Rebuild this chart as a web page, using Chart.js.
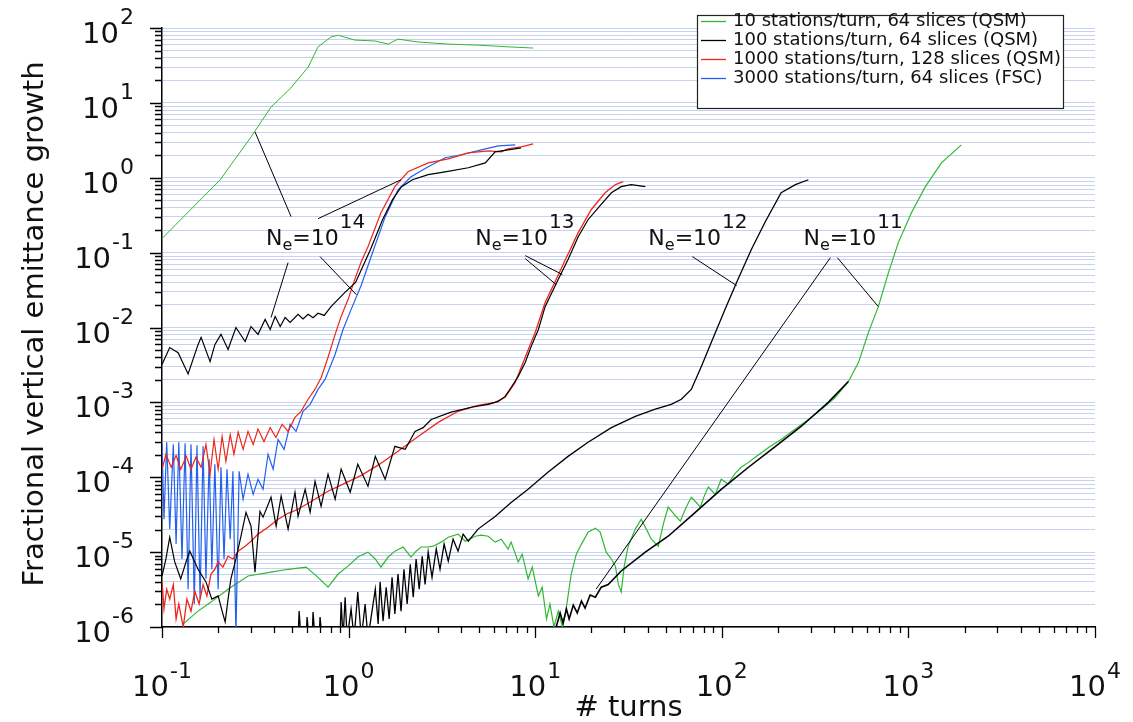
<!DOCTYPE html>
<html>
<head>
<meta charset="utf-8">
<script src="https://cdn.jsdelivr.net/npm/chart.js@4.4.1/dist/chart.umd.min.js"></script>
<style>
  html, body { margin: 0; background: #fff; }
  canvas { display: block; }
</style>
</head>
<body>
<canvas id="emittance" width="1133" height="722"></canvas>
<script>
// legend
const legendLabels = [
    '10 stations/turn, 64 slices (QSM)',
    '100 stations/turn, 64 slices (QSM)',
    '1000 stations/turn, 128 slices (QSM)',
    '3000 stations/turn, 64 slices (FSC)'
];

// axes: decades that get a "10^n" label
const xDecades = [-1, 0, 1, 2, 3, 4];
const yDecades = [-6, -5, -4, -3, -2, -1, 0, 1, 2];
const minorSteps = [1, 2, 3, 4, 5, 6, 7, 8, 9];

// Ne = 1e14, 10 stations/turn (green)
const g1X = [0.1, 0.205, 0.30, 0.384, 0.49, 0.607, 0.686, 0.805, 0.879, 1.08, 1.39, 1.63, 1.84, 2.36, 3.4, 4.95, 7.2, 9.75];
const g1Y = [0.154, 0.94, 3.5, 8.8, 15.8, 30, 56, 76, 80, 69, 67, 61, 71, 65, 61, 59, 56, 54];

// Ne = 1e11, 10 stations/turn (green)
const g2X = [0.130, 0.156, 0.183, 0.226, 0.289, 0.384, 0.474, 0.592, 0.686, 0.776,
    0.879, 0.993, 1.12, 1.27, 1.39, 1.49, 1.63, 1.77, 1.96, 2.16,
    2.30, 2.45, 2.67, 2.84, 3.13, 3.42, 3.86, 4.22, 4.77, 5.13,
    5.60, 6.10, 6.58, 7.16, 7.43, 8.11, 8.51, 9.16, 9.64, 10.4,
    10.9, 11.5, 12.0, 12.6, 13.3, 14.0, 14.5, 15.0, 15.6, 16.6,
    17.7, 19.2, 21.0, 22.3, 24.0, 25.6, 26.9, 27.9, 28.9, 30.0,
    31.5, 34.4, 37.0, 39.4, 41.9, 45.7, 48.6, 51.6, 55.6, 59.9,
    64.5, 68.6, 73.0, 76.7, 80.5, 84.7, 88.9, 92.3, 99.3, 108,
    118, 127, 139, 151, 178, 208, 248, 291, 342, 406,
    477, 540, 611, 690, 782, 883, 1038, 1233, 1503, 1923];
const g2Y = [1.1e-6, 1.63e-6, 2.15e-6, 3.2e-6, 4.8e-6, 5.4e-6, 5.9e-6, 6.3e-6, 4.6e-6, 3.4e-6,
    5.1e-6, 6.5e-6, 8.6e-6, 1.0e-5, 8.1e-6, 6.3e-6, 8.6e-6, 1.03e-5, 1.17e-5, 8.6e-6,
    1.03e-5, 1.17e-5, 1.17e-5, 1.2e-5, 1.36e-5, 1.58e-5, 1.74e-5, 1.4e-5, 1.63e-5, 1.69e-5,
    1.63e-5, 1.36e-5, 1.49e-5, 1.1e-5, 1.36e-5, 7.4e-6, 9.4e-6, 4.4e-6, 6.3e-6, 2.6e-6,
    3.4e-6, 1.28e-6, 2.03e-6, 1.0e-6, 1.63e-6, 1.0e-6, 1.49e-6, 2.6e-6, 5.1e-6, 9.4e-6,
    1.28e-5, 1.85e-5, 2.09e-5, 1.85e-5, 1.0e-5, 8.1e-6, 6.5e-6, 3.7e-6, 2.93e-6, 6.5e-6,
    1.2e-5, 2.03e-5, 2.75e-5, 2.03e-5, 1.49e-5, 1.2e-5, 2.36e-5, 4.0e-5, 3.2e-5, 2.59e-5,
    4.0e-5, 5.4e-5, 4.6e-5, 4.0e-5, 5.6e-5, 7.4e-5, 6.5e-5, 5.9e-5, 9.4e-5, 8.1e-5,
    1.13e-4, 1.36e-4, 1.58e-4, 1.85e-4, 2.5e-4, 3.2e-4, 4.4e-4, 5.9e-4, 8.1e-4, 1.17e-3,
    1.9e-3, 3.4e-3, 8.6e-3, 1.9e-2, 5.4e-2, 0.136, 0.34, 0.76, 1.58, 2.75];

// Ne = 1e14, 100 stations/turn (black)
const b1X = [0.1, 0.110, 0.122, 0.138, 0.156, 0.162, 0.181, 0.192, 0.207, 0.226,
    0.249, 0.279, 0.30, 0.327, 0.357, 0.38, 0.404, 0.43, 0.457, 0.486,
    0.536, 0.57, 0.607, 0.645, 0.686, 0.74, 0.805, 0.95, 1.09, 1.31,
    1.52, 1.72, 1.92, 2.2, 2.67, 3.29, 4.38, 5.4, 6.1, 7.16, 8.4];
const b1Y = [3.2e-3, 5.4e-3, 4.6e-3, 2.4e-3, 5.9e-3, 7.4e-3, 3.5e-3, 5.9e-3, 8.1e-3, 5.1e-3,
    1.0e-2, 6.5e-3, 1.03e-2, 8.1e-3, 1.28e-2, 9.4e-3, 1.4e-2, 1.03e-2, 1.36e-2, 1.17e-2,
    1.5e-2, 1.3e-2, 1.5e-2, 1.35e-2, 1.55e-2, 1.45e-2, 1.9e-2, 2.9e-2, 4.0e-2, 0.11,
    0.275, 0.51, 0.76, 0.94, 1.1, 1.2, 1.36, 1.58, 2.22, 2.36, 2.5];

// Ne = 1e13, 100 stations/turn (black)
const b2X = [0.1, 0.105, 0.110, 0.117, 0.126, 0.135, 0.141, 0.156, 0.172, 0.185,
    0.2, 0.21, 0.218, 0.226, 0.234, 0.249, 0.265, 0.282, 0.30, 0.315,
    0.335, 0.348, 0.384, 0.409, 0.435, 0.474, 0.516, 0.536, 0.585, 0.622,
    0.661, 0.712, 0.776, 0.847, 0.912, 1.02, 1.12, 1.27, 1.39, 1.57,
    1.77, 2.01, 2.27, 2.51, 2.77, 3.54, 4.54, 5.6, 6.34, 6.9,
    7.43, 8.11, 8.84, 9.52, 10.4, 11.3, 13.3, 15.0, 17.0, 19.2,
    21.8, 25.6, 28.9, 32.7, 38.9];
const b2Y = [4.8e-6, 8.1e-6, 1.58e-5, 7.4e-6, 4.4e-6, 7.6e-6, 1.03e-5, 5.9e-6, 4.0e-6, 2.36e-6,
    2.6e-6, 1.63e-6, 1.17e-6, 2.36e-6, 4.4e-6, 8.1e-6, 1.63e-5, 3.4e-5, 2.22e-5, 5.4e-6,
    3.5e-5, 2.93e-5, 5.4e-5, 2.22e-5, 5.6e-5, 2.03e-5, 6.3e-5, 3.0e-5, 6.9e-5, 3.4e-5,
    8.8e-5, 4.1e-5, 1.1e-4, 5.1e-5, 1.28e-4, 6.3e-5, 1.49e-4, 7.6e-5, 1.9e-4, 9.4e-5,
    2.59e-4, 2.36e-4, 4.1e-4, 4.6e-4, 5.9e-4, 7.4e-4, 8.6e-4, 9.4e-4, 1.03e-3, 1.2e-3,
    1.58e-3, 2.22e-3, 3.4e-3, 5.6e-3, 9.4e-3, 1.9e-2, 4.4e-2, 8.1e-2, 0.163, 0.275,
    0.40, 0.63, 0.76, 0.81, 0.76];

// Ne = 1e12, 100 stations/turn (black)
const b3X = [0.536, 0.543, 0.556, 0.592, 0.599, 0.614, 0.637, 0.645, 0.661, 0.695,
    0.703, 0.721, 0.900, 0.912, 0.934, 0.958, 0.982, 1.031, 1.07, 1.12,
    1.17, 1.226, 1.27, 1.39, 1.44, 1.475, 1.53, 1.59, 1.65, 1.71,
    1.77, 1.84, 1.91, 1.98, 2.06, 2.14, 2.22, 2.30, 2.39, 2.48,
    2.57, 2.67, 2.80, 2.95, 3.09, 3.25, 3.42, 3.63, 3.86, 4.11,
    4.38, 4.94, 6.10, 7.43, 9.16, 11.7, 15.0, 19.2, 25.6, 34.4,
    44.0, 53.6, 60.7, 68.6, 77.6, 87.8, 104, 120, 144, 171,
    208, 248, 291];
const b3Y = [7e-7, 1.63e-6, 7e-7, 7e-7, 1.36e-6, 7e-7, 7e-7, 1.58e-6, 7e-7, 7e-7,
    1.36e-6, 7e-7, 7e-7, 2.15e-6, 7e-7, 2.5e-6, 7e-7, 1.74e-6, 7e-7, 2.93e-6,
    7e-7, 2.03e-6, 7e-7, 3.2e-6, 1.1e-6, 4.0e-6, 1.2e-6, 3.4e-6, 1.28e-6, 4.6e-6,
    1.49e-6, 5.1e-6, 1.63e-6, 5.9e-6, 2.03e-6, 6.9e-6, 2.5e-6, 8.1e-6, 3.2e-6, 8.8e-6,
    3.7e-6, 1.0e-5, 4.6e-6, 1.1e-5, 5.9e-6, 1.28e-5, 7.6e-6, 1.49e-5, 1.03e-5, 1.74e-5,
    1.4e-5, 2.03e-5, 3.0e-5, 4.6e-5, 6.9e-5, 1.17e-4, 1.9e-4, 2.93e-4, 4.6e-4, 6.5e-4,
    8.1e-4, 9.4e-4, 1.1e-3, 1.49e-3, 3.0e-3, 6.3e-3, 1.74e-2, 4.0e-2, 0.11, 0.259,
    0.63, 0.81, 0.94];

// Ne = 1e11, 100 stations/turn (black)
const b4X = [12.96, 13.6, 14.1, 14.7, 15.2, 16.0, 16.8, 17.7, 18.5, 19.7, 21.0, 22.6,
    24.6, 28.9, 38.9, 51.6, 72.1, 99.3, 139, 194, 267, 372, 477];
const b4Y = [1.0e-6, 1.54e-6, 1.13e-6, 1.74e-6, 1.28e-6, 1.96e-6, 1.54e-6, 2.22e-6, 1.79e-6, 2.67e-6, 2.5e-6, 3.4e-6,
    3.7e-6, 5.6e-6, 1.0e-5, 1.63e-5, 3.4e-5, 6.9e-5, 1.36e-4, 2.59e-4, 4.8e-4, 1.0e-3, 1.9e-3];

// Ne = 1e14, 1000 stations/turn (red)
const r1X = [0.1, 0.105, 0.112, 0.119, 0.126, 0.135, 0.143, 0.152, 0.162, 0.172,
    0.181, 0.19, 0.2, 0.21, 0.22, 0.232, 0.243, 0.256, 0.272, 0.289,
    0.308, 0.327, 0.352, 0.38, 0.408, 0.44, 0.474, 0.516, 0.556, 0.607,
    0.661, 0.713, 0.776, 0.847, 0.912, 0.993, 1.08, 1.17, 1.27, 1.49,
    1.77, 2.08, 2.67, 3.42, 4.38, 5.6, 6.58, 7.16, 8.41, 9.75];
const r1Y = [1.28e-4, 2.03e-4, 1.36e-4, 1.96e-4, 1.28e-4, 1.9e-4, 1.28e-4, 1.85e-4, 1.36e-4, 2.75e-4,
    1.1e-4, 3.2e-4, 1.28e-4, 3.5e-4, 1.63e-4, 3.7e-4, 2.03e-4, 4.0e-4, 2.36e-4, 4.1e-4,
    2.75e-4, 4.4e-4, 3.0e-4, 4.6e-4, 3.4e-4, 5.1e-4, 4.1e-4, 6.3e-4, 7.6e-4, 1.1e-3,
    1.5e-3, 2.15e-3, 4.0e-3, 8.1e-3, 1.4e-2, 2.36e-2, 4.4e-2, 7.6e-2, 0.12, 0.34,
    0.76, 1.2, 1.58, 1.79, 2.15, 2.29, 2.22, 2.44, 2.59, 2.84];

// Ne = 1e13, 1000 stations/turn (red)
const r2X = [0.1, 0.1025, 0.106, 0.110, 0.115, 0.119, 0.123, 0.130, 0.136, 0.143,
    0.150, 0.158, 0.166, 0.174, 0.183, 0.192, 0.2, 0.212, 0.226, 0.240,
    0.256, 0.279, 0.30, 0.327, 0.37, 0.419, 0.474, 0.536, 0.607, 0.686,
    0.776, 0.934, 1.17, 1.44, 1.84, 2.36, 3.02, 3.86, 4.94, 6.10,
    6.90, 7.81, 8.84, 10.0, 11.3, 12.96, 14.7, 17.0, 19.95, 23.7, 26.9, 29.6];
const r2Y = [4.1e-6, 1.74e-6, 3.2e-6, 2.36e-6, 3.7e-6, 1.28e-6, 2.03e-6, 1.0e-6, 2.36e-6, 1.63e-6,
    3.0e-6, 2.03e-6, 3.7e-6, 2.6e-6, 5.1e-6, 5.9e-6, 7.4e-6, 6.3e-6, 8.8e-6, 8.1e-6,
    1.03e-5, 1.2e-5, 1.4e-5, 1.74e-5, 2.15e-5, 2.75e-5, 3.3e-5, 3.74e-5, 4.5e-5, 5.4e-5,
    6.5e-5, 8.1e-5, 1.06e-4, 1.45e-4, 2.22e-4, 3.5e-4, 5.4e-4, 7.6e-4, 9.1e-4, 1.0e-3,
    1.17e-3, 1.85e-3, 4.0e-3, 8.6e-3, 2.15e-2, 4.4e-2, 8.6e-2, 0.185, 0.374, 0.63, 0.81, 0.885];

// Ne = 1e14, 3000 stations/turn FSC (blue)
const blX = [0.1, 0.1025, 0.106, 0.110, 0.115, 0.119, 0.123, 0.128, 0.133, 0.138,
    0.143, 0.149, 0.154, 0.160, 0.166, 0.172, 0.179, 0.185, 0.192, 0.2,
    0.207, 0.215, 0.223, 0.232, 0.240, 0.249, 0.259, 0.272, 0.289, 0.308,
    0.327, 0.348, 0.370, 0.394, 0.419, 0.451, 0.486, 0.523, 0.570, 0.622,
    0.686, 0.748, 0.847, 0.934, 1.02, 1.17, 1.32, 1.57, 1.84, 2.16,
    2.67, 3.29, 4.01, 5.14, 6.34, 7.82];
const blY = [2.75e-4, 2.75e-5, 2.93e-4, 2.03e-5, 2.75e-4, 1.28e-5, 2.93e-4, 8.1e-6, 2.84e-4, 3.2e-6,
    2.75e-4, 2.03e-6, 2.67e-4, 2.36e-6, 2.59e-4, 4.4e-6, 1.74e-4, 5.9e-6, 1.49e-4, 3.2e-6,
    1.36e-4, 8.1e-6, 1.28e-4, 1.49e-5, 1.2e-4, 8e-7, 1.2e-4, 5.1e-5, 1.1e-4, 5.9e-5,
    9.4e-5, 6.9e-5, 2.03e-4, 1.28e-4, 3.2e-4, 2.36e-4, 5.1e-4, 4.1e-4, 7.6e-4, 9.4e-4,
    1.49e-3, 2.03e-3, 4.4e-3, 9.4e-3, 1.63e-2, 3.7e-2, 8.8e-2, 0.30, 0.69, 1.03,
    1.40, 1.85, 2.03, 2.36, 2.67, 2.75];

// pointer lines from the Ne labels to the curves
const annX = [[0.492, 0.315], [0.686, 1.91], [0.474, 0.384], [0.703, 1.10],
    [8.84, 14.0], [8.84, 12.96], [69.5, 120], [416, 690], [382, 21.2]];
const annY = [[0.302, 4.1], [0.284, 0.94], [0.0736, 0.0136], [0.0885, 0.0275],
    [0.0912, 0.0509], [0.0832, 0.0374], [0.0885, 0.0363], [0.0858, 0.019], [0.0858, 3.2e-6]];

// Ne labels (exponent, anchor of the "N")
const neExp = ['14', '13', '12', '11'];
const neX = [0.361, 4.77, 40.4, 274];
const neY = [0.128, 0.128, 0.128, 0.128];

const GREEN = '#2fb82f';
const BLACK = '#000000';
const RED = '#ee2618';
const BLUE = '#2360ee';
const GRID = '#c6d2ee';
const FONT = "'DejaVu Sans', sans-serif";
const legendColors = [GREEN, BLACK, RED, BLUE];

function decadeTicks(decades, maxExp) {
    const out = [];
    decades.forEach(e => {
        if (e === maxExp) { out.push(Math.pow(10, e)); return; }
        minorSteps.forEach(m => out.push(Number((m * Math.pow(10, e)).toPrecision(10))));
    });
    return out;
}
const xTickValues = decadeTicks(xDecades, 4);
const yTickValues = decadeTicks(yDecades, 2);
const isDecade = v => Math.abs(Math.log10(v) - Math.round(Math.log10(v))) < 1e-6;

const pts = (xs, ys) => xs.map((x, i) => ({x: x, y: ys[i]}));
const curve = (xs, ys, color, width) => ({
    data: pts(xs, ys),
    borderColor: color,
    borderWidth: width,
    pointRadius: 0,
    tension: 0,
    fill: false
});

const datasets = [];
annX.forEach((xs, i) => datasets.push(curve(xs, annY[i], BLACK, 1)));
datasets.push(curve(b1X, b1Y, BLACK, 1.2));
datasets.push(curve(b2X, b2Y, BLACK, 1.2));
datasets.push(curve(b3X, b3Y, BLACK, 1.3));
datasets.push(curve(b4X, b4Y, BLACK, 1.6));
datasets.push(curve(r1X, r1Y, RED, 1.2));
datasets.push(curve(r2X, r2Y, RED, 1.3));
datasets.push(curve(blX, blY, BLUE, 1.2));
datasets.push(curve(g1X, g1Y, GREEN, 1));
datasets.push(curve(g2X, g2Y, GREEN, 1.2));

function line(ctx, x1, y1, x2, y2) {
    ctx.moveTo(x1, y1);
    ctx.lineTo(x2, y2);
}

const decorations = {
    id: 'decorations',
    afterDraw(chart) {
        const {ctx, chartArea: a, scales: {x, y}} = chart;
        ctx.save();

        // tick marks
        ctx.strokeStyle = '#000';
        ctx.lineWidth = 1.3;
        ctx.beginPath();
        yTickValues.forEach(v => {
            const py = Math.round(y.getPixelForValue(v)) + 0.5;
            line(ctx, a.left - (isDecade(v) ? 12 : 7), py, a.left, py);
        });
        xTickValues.forEach(v => {
            const px = Math.round(x.getPixelForValue(v)) + 0.5;
            line(ctx, px, a.bottom, px, a.bottom + (isDecade(v) ? 11 : 6));
        });
        ctx.stroke();

        // tick labels 10^n
        ctx.fillStyle = '#111';
        ctx.textAlign = 'left';
        ctx.textBaseline = 'alphabetic';
        yDecades.forEach(e => {
            const py = y.getPixelForValue(Math.pow(10, e));
            const ex = String(e);
            ctx.font = '22px ' + FONT;
            const ew = ctx.measureText(ex).width;
            const right = a.left - 28;
            ctx.fillText(ex, right - ew, py - 4);
            ctx.font = '29px ' + FONT;
            const bw = ctx.measureText('10').width;
            ctx.fillText('10', right - ew - 1 - bw, py + 15);
        });
        xDecades.forEach(e => {
            const px = x.getPixelForValue(Math.pow(10, e));
            const ex = String(e);
            ctx.font = '22px ' + FONT;
            const ew = ctx.measureText(ex).width;
            ctx.font = '29px ' + FONT;
            const bw = ctx.measureText('10').width;
            const start = px - (bw + 1 + ew) / 2;
            ctx.fillText('10', start, a.bottom + 69);
            ctx.font = '22px ' + FONT;
            ctx.fillText(ex, start + bw + 1, a.bottom + 51);
        });

        // axis titles
        ctx.font = '29px ' + FONT;
        ctx.textAlign = 'center';
        ctx.fillText('# turns', (a.left + a.right) / 2, 716);
        ctx.save();
        ctx.translate(43, 324);
        ctx.rotate(-Math.PI / 2);
        ctx.fillText('Fractional vertical emittance growth', 0, 0);
        ctx.restore();

        // Ne labels
        ctx.textAlign = 'left';
        neExp.forEach((ex, i) => {
            let px = x.getPixelForValue(neX[i]);
            const py = y.getPixelForValue(neY[i]);
            ctx.font = '22px ' + FONT;
            ctx.fillText('N', px, py);
            px += ctx.measureText('N').width;
            ctx.font = '16px ' + FONT;
            ctx.fillText('e', px, py + 5);
            px += ctx.measureText('e').width;
            ctx.font = '22px ' + FONT;
            ctx.fillText('=10', px, py);
            px += ctx.measureText('=10').width + 1;
            ctx.font = '20px ' + FONT;
            ctx.fillText(ex, px, py - 17);
        });

        // legend box
        const lx = a.right - 398, ly = a.top - 13, lw = 366, lh = 93;
        ctx.fillStyle = '#fff';
        ctx.fillRect(lx, ly, lw, lh);
        ctx.strokeStyle = '#222';
        ctx.lineWidth = 1.2;
        ctx.strokeRect(lx + 0.5, ly + 0.5, lw, lh);
        ctx.font = '18px ' + FONT;
        ctx.textBaseline = 'middle';
        legendLabels.forEach((txt, i) => {
            const cy = ly + 6 + i * 19;
            ctx.strokeStyle = legendColors[i];
            ctx.lineWidth = 1.3;
            ctx.beginPath();
            line(ctx, lx + 4, cy + 0.5, lx + 29, cy + 0.5);
            ctx.stroke();
            ctx.fillStyle = '#111';
            ctx.fillText(txt, lx + 36, cy);
        });

        ctx.restore();
    }
};

new Chart(document.getElementById('emittance'), {
    type: 'line',
    data: { datasets: datasets },
    options: {
        responsive: false,
        animation: false,
        events: [],
        layout: { padding: { left: 162, top: 28, right: 38, bottom: 95 } },
        plugins: {
            legend: { display: false },
            tooltip: { enabled: false }
        },
        scales: {
            x: {
                type: 'logarithmic',
                min: 0.1,
                max: 10000,
                grid: { display: false, drawTicks: false },
                border: { display: true, color: '#000', width: 1.5 },
                ticks: { display: false },
                afterFit: s => { s.height = 0; }
            },
            y: {
                type: 'logarithmic',
                min: 1e-6,
                max: 100,
                grid: { color: GRID, lineWidth: 1, drawTicks: false },
                border: { display: true, color: '#000', width: 1.5 },
                ticks: { display: false, autoSkip: false },
                afterBuildTicks: s => { s.ticks = yTickValues.map(v => ({ value: v })); },
                afterFit: s => { s.width = 0; }
            }
        }
    },
    plugins: [decorations]
});
</script>
</body>
</html>
